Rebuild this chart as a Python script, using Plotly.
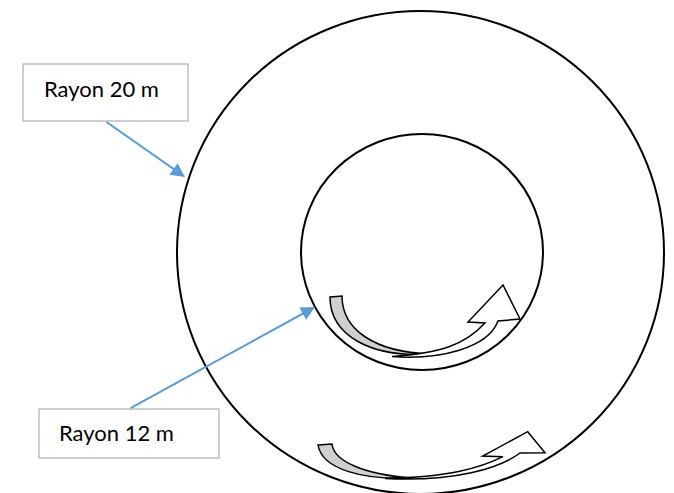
import plotly.graph_objects as go

# Data
radii_m = [20, 12]
labels = [f"Rayon {r} m" for r in radii_m]

W, H = 674, 493
fig = go.Figure()
fig.add_trace(go.Scatter(x=[0, W], y=[0, H], mode="markers",
                         marker=dict(opacity=0), hoverinfo="skip", showlegend=False))

shapes = []
# outer circle (radius 20 m) and inner circle (radius 12 m)
shapes.append(dict(type="circle", xref="x", yref="y", x0=177, x1=664, y0=11, y1=494,
                   line=dict(color="black", width=2), layer="above"))
shapes.append(dict(type="circle", xref="x", yref="y", x0=301, x1=543, y0=134, y1=370,
                   line=dict(color="black", width=2), layer="above"))

# inner curved arrow
shapes.append(dict(type="path", xref="x", yref="y",
                   path="M 330,297 L 342,296 C 342,330 375,352 430,354 C 370,358 330,335 330,297 Z",
                   fillcolor="#cfcfcf", line=dict(color="black", width=1.5), layer="above"))
shapes.append(dict(type="path", xref="x", yref="y",
                   path="M 392,356.5 C 440,360 488,348 498,321 L 520,319 L 503,285 L 468,322 L 485,323 "
                        "C 465,345 440,353 392,356.5 Z",
                   fillcolor="white", line=dict(color="black", width=1.5), layer="above"))

# outer curved arrow
shapes.append(dict(type="path", xref="x", yref="y",
                   path="M 318,445 L 332,444 C 334,462 365,474 410,478 C 365,480 322,470 318,445 Z",
                   fillcolor="#cfcfcf", line=dict(color="black", width=1.5), layer="above"))
shapes.append(dict(type="path", xref="x", yref="y",
                   path="M 385,478.5 C 455,482 500,468 520,453 L 545,452.7 L 527.7,431.7 L 482.7,456 L 503,456.7 "
                        "C 480,468 450,477 385,478.5 Z",
                   fillcolor="white", line=dict(color="black", width=1.5), layer="above"))

# label boxes
boxes = [(23, 64, 188, 121), (39, 409, 219, 458)]
for (x0, y0, x1, y1) in boxes:
    shapes.append(dict(type="rect", xref="x", yref="y", x0=x0, y0=y0, x1=x1, y1=y1,
                       line=dict(color="#bfbfbf", width=1.5), fillcolor="white", layer="above"))

fig.update_layout(shapes=shapes)

text_pos = [(42, 88), (57, 432)]
for lab, (tx, ty) in zip(labels, text_pos):
    fig.add_annotation(x=tx, y=ty, xref="x", yref="y", text=lab, showarrow=False,
                       xanchor="left", yanchor="middle",
                       font=dict(family="Lato", size=22, color="black"))

# blue pointer arrows
arrows = [((105, 121), (185, 177)), ((129, 409), (315, 307))]
for (tail, tip) in arrows:
    fig.add_annotation(x=tip[0], y=tip[1], ax=tail[0], ay=tail[1], xref="x", yref="y",
                       axref="x", ayref="y", text="", showarrow=True,
                       arrowhead=2, arrowsize=1.4, arrowwidth=2, arrowcolor="#5b9bd5")

fig.update_xaxes(range=[0, W], visible=False, fixedrange=True)
fig.update_yaxes(range=[H, 0], visible=False, fixedrange=True)
fig.update_layout(width=W, height=H, margin=dict(l=0, r=0, t=0, b=0),
                  paper_bgcolor="white", plot_bgcolor="white", showlegend=False)

fig.write_html("out.html", config={"displayModeBar": False},
               post_script="document.body.style.margin='0';document.body.style.overflow='hidden';")
